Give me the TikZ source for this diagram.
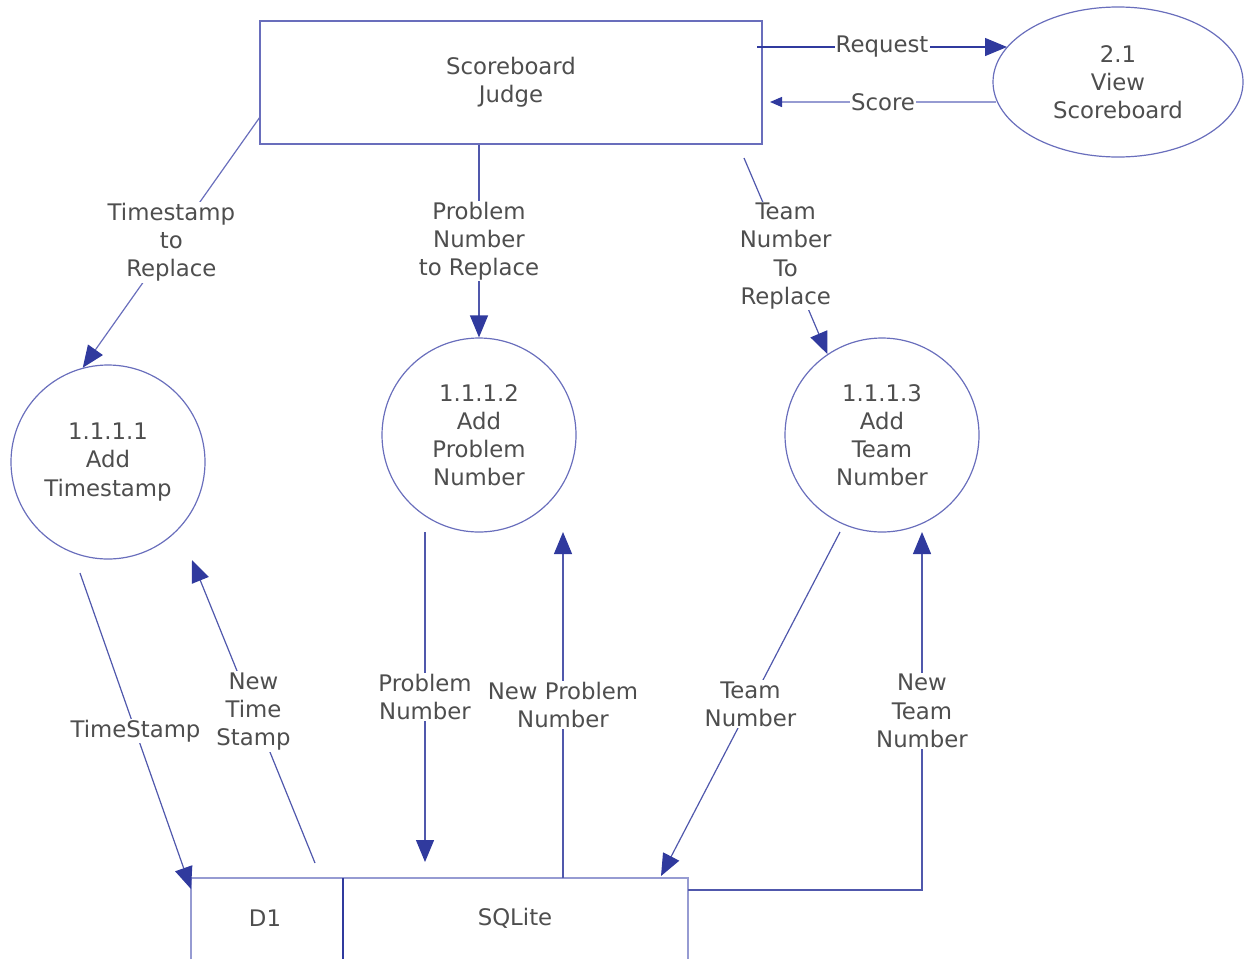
\documentclass[tikz,border=0pt]{standalone}
\usepackage{fontspec}
\setmainfont{DejaVu Sans}
\usetikzlibrary{arrows.meta,shapes.geometric}
\definecolor{lineblue}{RGB}{80,88,172}
\definecolor{lightblue}{RGB}{150,155,210}
\definecolor{shapeblue}{RGB}{105,110,188}
\definecolor{tipblue}{RGB}{48,58,158}
\definecolor{txt}{RGB}{78,78,78}
\tikzset{
  every node/.style={text=txt,font=\fontsize{11.4}{14.1}\selectfont,align=center},
  flow/.style={draw=lineblue,line width=0.6pt,-{Triangle[length=11pt,width=9pt,fill=tipblue,color=tipblue]}},
  lbl/.style={fill=white,inner sep=0.6pt},
  proc/.style={circle,draw=shapeblue,line width=0.6pt,minimum size=97pt,inner sep=0pt},
}
\begin{document}
\begin{tikzpicture}[x=0.5pt,y=-0.5pt]
\useasboundingbox (0,0) rectangle (1245,959);
% nodes
\node[draw=shapeblue,line width=0.6pt,minimum width=251pt,minimum height=61.5pt] (judge) at (511,82.5) {Scoreboard\\Judge};
\node[ellipse,draw=shapeblue,line width=0.6pt,minimum width=125pt,minimum height=75pt,inner sep=0pt] (view) at (1118,82) {2.1\\View\\Scoreboard};
\node[proc] (c1) at (108,462) {1.1.1.1\\Add\\Timestamp};
\node[proc] (c2) at (479,435) {1.1.1.2\\Add\\Problem\\Number};
\node[proc] (c3) at (882,435) {1.1.1.3\\Add\\Team\\Number};
\node (d1) at (265,918) {D1};
\node (sql) at (515,918) {SQLite};
% store outline
\draw[draw=lightblue,line width=0.8pt] (191,959) -- (191,878) -- (688,878) -- (688,959);
\draw[draw=tipblue,line width=1.3pt] (343,878) -- (343,959);
% coordinates
\coordinate (reqS) at (757,47);
\coordinate (reqE) at (1007,47);
\coordinate (scoS) at (996,102);
\coordinate (scoE) at (770,102);
\coordinate (tsS) at (260,117);
\coordinate (tnS) at (744,158);
\coordinate (tstS) at (80,573);
\coordinate (tstE) at (191,889);
\coordinate (ntsS) at (315,863);
\coordinate (ntsE) at (192,560);
\coordinate (pnS) at (425,532);
\coordinate (pnE) at (425,862);
\coordinate (npnS) at (563,878);
\coordinate (npnE) at (563,532);
\coordinate (tmS) at (840,532);
\coordinate (tmE) at (661,876);
\coordinate (ntnS) at (688,890);
\coordinate (ntnC) at (922,890);
\coordinate (ntnE) at (922,532);
% connectors
\draw[flow,draw=tipblue] (reqS) -- node[lbl,pos=0.5]{Request} (reqE);
\draw[draw=lightblue,line width=0.7pt,-{Triangle[length=6pt,width=5pt,fill=tipblue,color=tipblue]}] (scoS) -- node[lbl,pos=0.5]{Score} (scoE);
\draw[flow,draw=shapeblue] (tsS) -- node[lbl,pos=0.5]{Timestamp\\to\\Replace} (c1.105);
\draw[flow] (c2.north |- judge.south) -- node[lbl,pos=0.5]{Problem\\Number\\to Replace} (c2.north);
\draw[flow] (tnS) -- node[lbl,pos=0.5]{Team\\Number\\To\\Replace} (c3.124);
\draw[flow] (tstS) -- node[lbl,pos=0.5]{TimeStamp} (tstE);
\draw[flow] (ntsS) -- node[lbl,pos=0.5]{New\\Time\\Stamp} (ntsE);
\draw[flow] (pnS) -- node[lbl,pos=0.5]{Problem\\Number} (pnE);
\draw[flow] (npnS) -- node[lbl,pos=0.5]{New Problem\\Number} (npnE);
\draw[flow] (tmS) -- node[lbl,pos=0.5]{Team\\Number} (tmE);
\draw[flow] (ntnS) -- (ntnC) -- node[lbl,pos=0.5]{New\\Team\\Number} (ntnE);
\end{tikzpicture}
\end{document}
